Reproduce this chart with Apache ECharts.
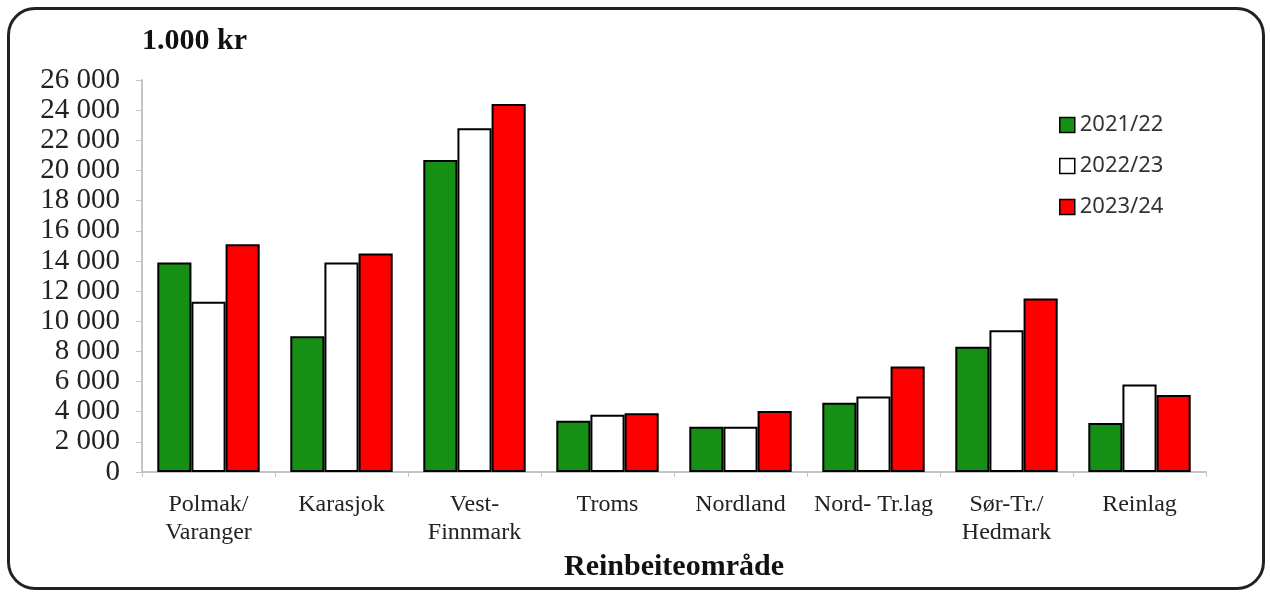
<!DOCTYPE html>
<html>
<head>
<meta charset="utf-8">
<script src="https://cdn.jsdelivr.net/npm/echarts@6/dist/echarts.min.js"></script>
<style>
  html, body { margin: 0; padding: 0; background: #fff; }
  #wrap { position: relative; width: 1270px; height: 592px; }
  #chart { position: absolute; left: 0; top: 0; width: 1270px; height: 592px; }
  .frame {
    position: absolute; left: 7px; top: 7px; width: 1252px; height: 577px;
    border: 3px solid #222; border-radius: 28px; pointer-events: none;
  }
</style>
</head>
<body>
<div id="wrap">
  <div id="chart"></div>
  <div class="frame"></div>
</div>
<script>
// kategorier (reinbeiteområder)
const categories = [
  'Polmak/\nVaranger', 'Karasjok', 'Vest-\nFinnmark', 'Troms',
  'Nordland', 'Nord- Tr.lag', 'Sør-Tr./\nHedmark', 'Reinlag'
]
// år i legend
const legendNames = ['2021/22', '2022/23', '2023/24']
// verdier i 1.000 kr
const values2122 = [13900, 9000, 20700, 3400, 3000, 4600, 8300, 3250]
const values2223 = [11300, 13900, 22800, 3800, 3000, 5000, 9400, 5800]
const values2324 = [15100, 14500, 24400, 3900, 4050, 7000, 11500, 5100]
// y-akse
const yMin = 0
const yMax = 26000
const yStep = 2000

const seriesColors = ['#159015', '#ffffff', '#ff0000']
const serif = '"Liberation Serif", "Times New Roman", serif'

const myChart = echarts.init(document.getElementById('chart'))

const series = [values2122, values2223, values2324].map((data, index) => ({
  name: legendNames[index],
  type: 'bar',
  barGap: 0,
  barCategoryGap: '23%',
  itemStyle: {
    color: seriesColors[index],
    borderColor: '#000',
    borderWidth: 2
  },
  data
}))

const option = {
  animation: false,
  title: {
    text: '1.000 kr',
    left: 137,
    top: 20,
    textStyle: {
      fontFamily: serif,
      fontWeight: 'bold',
      fontSize: 30,
      lineHeight: 32,
      color: '#111'
    }
  },
  legend: {
    data: legendNames,
    orient: 'vertical',
    left: 1054,
    top: 109,
    icon: 'rect',
    itemWidth: 15,
    itemHeight: 15,
    itemGap: 19,
    itemStyle: { borderColor: '#000', borderWidth: 1.5 },
    textStyle: {
      fontFamily: '"Noto Sans", sans-serif',
      fontSize: 22,
      lineHeight: 22,
      color: '#333'
    }
  },
  grid: {
    left: 142,
    right: 64,
    top: 80,
    bottom: 120,
    containLabel: false,
    outerBoundsMode: 'none'
  },
  xAxis: {
    type: 'category',
    data: categories,
    name: 'Reinbeiteområde',
    nameLocation: 'middle',
    nameGap: 78,
    nameTextStyle: {
      fontFamily: serif,
      fontWeight: 'bold',
      fontSize: 30,
      color: '#111'
    },
    axisLine: { lineStyle: { color: '#c4c4c4', width: 2 } },
    axisTick: { show: true, length: 5, lineStyle: { color: '#c4c4c4' } },
    axisLabel: {
      interval: 0,
      margin: 19,
      fontFamily: serif,
      fontSize: 24,
      lineHeight: 28,
      color: '#222'
    }
  },
  yAxis: {
    type: 'value',
    min: yMin,
    max: yMax,
    interval: yStep,
    axisLine: { show: true, lineStyle: { color: '#c4c4c4', width: 2 } },
    axisTick: { show: true, length: 6, lineStyle: { color: '#c4c4c4' } },
    splitLine: { show: false },
    axisLabel: {
      margin: 22,
      fontFamily: serif,
      fontSize: 29,
      color: '#222',
      formatter: (v) => String(v).replace(/\B(?=(\d{3})+(?!\d))/g, ' ')
    }
  },
  series
}

myChart.setOption(option)
</script>
</body>
</html>
